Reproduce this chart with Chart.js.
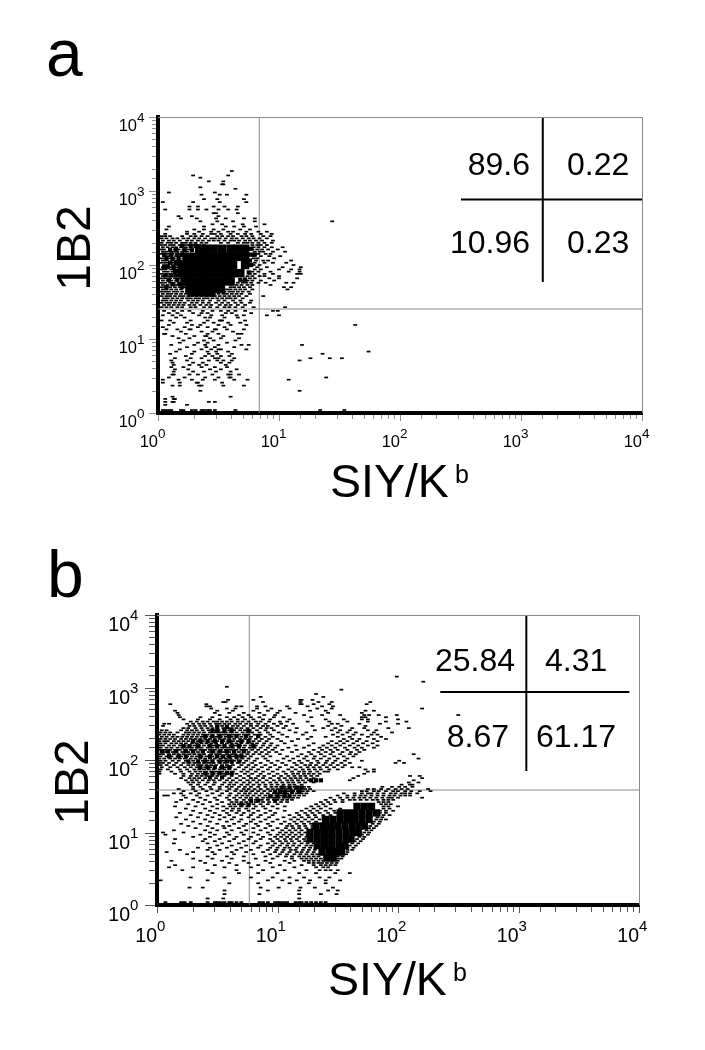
<!DOCTYPE html>
<html lang="en">
<head>
<meta charset="UTF-8">
<title>SIY/Kb vs 1B2</title>
<script src="https://cdn.jsdelivr.net/npm/chart.js"></script>
<style>
  body { margin: 0; background: #fff; font-family: "Liberation Sans", Arial, sans-serif; color: #000; }
  #page { position: relative; width: 705px; height: 1050px; overflow: hidden; }
  canvas { position: absolute; left: 0; }
  .t { position: absolute; white-space: nowrap; line-height: 1; }
  .stat { font-size: 32px; }
  .panel { font-size: 66px; }
  .ytitle { font-size: 48px; transform: translate(-50%, -50%) rotate(-90deg); }
  .xtitle { font-size: 46.5px; }
  .xtitle sup { font-size: 25px; line-height: 0; vertical-align: 14px; margin-left: 6px; }
</style>
</head>
<body>
<div id="page">
  <canvas id="chartA" width="705" height="525" style="top:0"></canvas>
  <canvas id="chartB" width="705" height="525" style="top:525px"></canvas>

  <div class="t panel" style="left:46px;top:20px">a</div>
  <div class="t ytitle" style="left:74px;top:248px">1B2</div>
  <div class="t xtitle" style="left:330px;top:458px">SIY/K<sup>b</sup></div>
  <div class="t stat" style="right:175px;top:148px">89.6</div>
  <div class="t stat" style="left:567px;top:148px">0.22</div>
  <div class="t stat" style="right:175px;top:226px">10.96</div>
  <div class="t stat" style="left:567px;top:226px">0.23</div>

  <div class="t panel" style="left:47px;top:541px">b</div>
  <div class="t ytitle" style="left:72px;top:782px">1B2</div>
  <div class="t xtitle" style="left:328px;top:956px">SIY/K<sup>b</sup></div>
  <div class="t stat" style="right:190px;top:644px">25.84</div>
  <div class="t stat" style="left:545px;top:644px">4.31</div>
  <div class="t stat" style="right:196px;top:720px">8.67</div>
  <div class="t stat" style="left:536px;top:720px">61.17</div>
</div>
<script>
// all values are in decades (log10 of the fluorescence reading)
// rows: [y decade, x decade, x decade, ...]
const decadeLabels = [0, 1, 2, 3, 4];

const aGate = [0.837, 1.405];
const aCrossV = [3.18, 1.77, 4];
const aCrossH = [2.885, 2.504, 4];

const aCore = [
  [2.22,.34,.40,.46,.53,.60,.66,.72],
  [2.11,.24,.30,.36,.42,.48,.54,.60,.66,.72],
  [2.00,.20,.26,.32,.38,.44,.50,.56,.62,.72],
  [1.89,.20,.26,.32,.38,.44,.50,.56,.62,.68],
  [1.78,.22,.26,.32,.38,.44,.50,.56,.60],
  [1.68,.26,.30,.36,.42,.46,.52],
  [1.63,.28,.34,.40,.44]
];

const aClumps = [
  [2.26,.20,.27,.31],[2.20,.10,.15,.22,.28],[2.14,.05,.11,.16,.20],[2.08,.07,.12,.17],[2.03,.10,.15],
  [1.97,.05,.08,.13],[1.92,.14,.17],[1.86,.06,.11,.15],[1.80,.09,.16],[1.74,.12,.18],[1.70,.07,.20],
  [2.22,.77],[2.14,.77,.80],[2.06,.76],[2.00,.77],[1.90,.75],[1.80,.68,.72]
];

const aDots = [
  [3.27,.61],[3.21,.29,.58],[3.18,.35],[3.13,.42,.54],[3.09,.53,.54],[3.05,.35],[3.03,.64],[2.98,.09,.47],
  [2.95,.36,.51,.57,.73],[2.89,.38,.49,.71],[2.85,.04,.29,.51,.73],[2.79,.26,.33,.46,.55,.66],
  [2.75,.06,.26,.33,.40,.50,.58,.65],[2.70,.46,.48,.66],[2.66,.17,.28,.50],[2.63,.19,.32,.48,.56,.71,.80],
  [2.59,.35,.49,.62,.80,1.44],[2.55,.45,.53,.70,.88],[2.52,.09,.38,.56,.63,.71,.81],
  [2.48,.07,.30,.38,.46,.54,.68,.76],[2.45,.24,.34,.44,.50,.58,.62,.73,.83,.90],
  [2.42,.06,.24,.30,.37,.44,.47,.52,.60,.66,.72,.77,.85,.94],
  [2.39,.03,.06,.10,.20,.27,.31,.36,.41,.49,.53,.58,.62,.69,.73,.78,.87,.93],
  [2.36,.03,.07,.12,.16,.21,.25,.30,.34,.39,.44,.47,.51,.56,.61,.65,.70,.75,.79,.84,.90],
  [2.33,.04,.09,.13,.18,.24,.28,.33,.37,.42,.46,.50,.55,.60,.63,.67,.72,.76,.81,.86,.95],
  [2.30,.03,.08,.11,.15,.20,.23,.27,.31,.36,.40,.52,.58,.66,.71,.74,.78,.83,.88,.94],
  [2.27,.03,.06,.10,.13,.18,.22,.25,.30,.34,.38,.78,.82,.85,.90],
  [2.24,.04,.08,.12,.15,.19,.23,.27,.31,.79,.83,.88,.94,1.03],
  [2.21,.03,.05,.10,.14,.17,.21,.25,.78,.82,.86,.91,.99],
  [2.18,.04,.07,.11,.13,.16,.20,.24,.80,.84,.87,.95,1.05],
  [2.15,.03,.06,.09,.12,.16,.19,.23,.80,.83,.89,.93],
  [2.12,.05,.08,.11,.15,.18,.21,.79,.85,.92,1.01],
  [2.09,.03,.06,.10,.13,.17,.21,.79,.82,.96],
  [2.06,.04,.07,.12,.15,.19,.23,.81,.87,.91,1.10],
  [2.03,.03,.06,.09,.13,.17,.21,.80,.88,.95,1.06],
  [2.00,.05,.08,.12,.15,.18,.20,.79,.84,1.12],
  [1.97,.04,.07,.10,.14,.17,.21,.82,.90,1.03,1.18],
  [1.94,.03,.06,.11,.15,.19,.80,.85,1.00,1.10,1.17],
  [1.91,.05,.08,.12,.16,.20,.78,.83,.93,1.08,1.17],
  [1.88,.03,.07,.10,.14,.18,.22,.76,.80,.88,.95,1.15,1.18],
  [1.85,.04,.08,.12,.16,.20,.24,.74,.78,.84,.88,1.00],
  [1.82,.03,.06,.10,.14,.18,.22,.72,.76,.80,.92,1.00,1.15],
  [1.79,.04,.08,.11,.15,.20,.70,.74,.78,.85,.96],
  [1.76,.03,.06,.10,.13,.17,.21,.25,.66,.70,.73,.77,.83,.89,1.06,1.12],
  [1.73,.04,.08,.12,.15,.19,.23,.61,.65,.69,.74,.78,.93],
  [1.70,.03,.06,.10,.14,.18,.22,.25,.60,.63,.67,.71,.76,1.04,1.10],
  [1.67,.04,.07,.11,.15,.19,.57,.60,.64,.68,.72,.78,1.07],
  [1.64,.03,.06,.09,.13,.16,.20,.24,.28,.51,.55,.59,.62,.66,.70,.75],
  [1.61,.04,.08,.11,.15,.19,.23,.26,.30,.42,.46,.50,.54,.57,.61,.65,.69,.76],
  [1.58,.03,.07,.10,.14,.18,.21,.25,.28,.32,.36,.40,.44,.47,.51,.55,.59,.63,.67,.73,.87],
  [1.55,.05,.08,.12,.16,.20,.24,.27,.31,.34,.38,.41,.45,.49,.53,.57,.60,.64,.70],
  [1.52,.04,.07,.11,.15,.19,.25,.29,.33,.37,.43,.50,.55,.62,.68,.77],
  [1.49,.03,.07,.10,.14,.18,.22,.28,.32,.37,.42,.48,.53,.58,.64,.69,.76],
  [1.46,.05,.09,.13,.17,.21,.26,.30,.35,.40,.44,.51,.56,.60,.66,.72],
  [1.43,.03,.07,.11,.16,.20,.27,.31,.38,.43,.49,.55,.59,.64,.70,.79,1.05],
  [1.38,.05,.13,.20,.26,.37,.45,.52,.58,.64,.72,.95,.99],
  [1.35,.09,.16,.29,.36,.41,.56,.61,.77],
  [1.32,.04,.12,.19,.34,.44,.53,.65,.71,.90,1.00],
  [1.29,.15,.22,.39,.43,.55,.66],
  [1.25,.03,.10,.27,.41,.51,.52,.53,.72],
  [1.22,.13,.24,.38,.46,.58,.68],
  [1.19,.09,.28,.35,.50,.60,.73,1.63],
  [1.16,.04,.22,.33,.41,.55],
  [1.13,.07,.16,.26,.27,.47,.48,.57,.71],
  [1.10,.19,.36,.45,.62],
  [1.07,.05,.06,.23,.41,.50,.66,.69],
  [1.04,.12,.30,.39,.40,.54],
  [1.01,.17,.26,.43,.52,.67],
  [.98,.21,.38,.46,.64],
  [.95,.18,.33,.41,.57],
  [.92,.11,.30,.39,.50,.69,.75,1.19],
  [.89,.24,.40,.47,.63],
  [.86,.18,.36,.44,.50,.52,.73],
  [.83,.15,.30,.41,.48,.58,1.74],
  [.80,.10,.28,.42,.49,.61,1.36],
  [.77,.23,.39,.45,.52,.59],
  [.74,.14,.27,.36,.47,.50,.63,1.26,1.42,1.52],
  [.71,.11,.24,.42,.49,.54,.61,1.17],
  [.68,.12,.29,.37,.52,.59],
  [.65,.13,.26,.34,.40,.56],
  [.62,.11,.21,.36,.47,.57],
  [.59,.14,.25,.43,.52,.65],
  [.56,.13,.29,.38,.48,.60],
  [.52,.12,.13,.26,.33,.45,.58,.60,.67],
  [.48,.09,.22,.39,.50,.59,.60,1.39],
  [.45,.04,.17,.28,.37,.47,.63,.74,1.08],
  [.41,.04,.18,.32,.33,.53],
  [.37,.12,.18,.34,.36,.54,.71],
  [.30,.35,1.17],[.22,.12,.60],[.19,.06,.13,.14],[.15,.06,.12,.13,.42,.47],[.11,.06,.24],
  [.04,.04,.06,.09,.11,.19,.21,.28,.31,.36,.38,.41,.43,.47,.64,1.34,1.54]
];

const bGate = [0.766, 1.586];
const bCrossV = [3.065, 1.848, 4];
const bCrossH = [2.938, 2.351, 3.92];

const bCore = [
  [1.36,1.66,1.72,1.78],
  [1.27,1.52,1.58,1.64,1.70,1.76,1.82],
  [1.18,1.40,1.46,1.52,1.58,1.64,1.70,1.76],
  [1.09,1.32,1.38,1.44,1.50,1.56,1.62,1.68,1.72],
  [1.00,1.27,1.33,1.39,1.45,1.51,1.57,1.63,1.67],
  [.91,1.27,1.33,1.39,1.45,1.51,1.57,1.61],
  [.82,1.33,1.39,1.45,1.51,1.56],
  [.73,1.37,1.43,1.49,1.53],
  [.65,1.41,1.46]
];

const bClumps = [
  [2.46,.50,.58],[2.40,.46,.50,.56,.62,.76],[2.33,.40,.46,.52,.60,.66,.74,.84],[2.26,.30,.36,.42,.48,.54,.60,.70,.76],
  [2.19,.22,.27,.34,.44,.50,.56,.62,.68,.80],[2.12,.04,.09,.16,.24,.30,.38,.46,.52,.58,.64,.72],
  [2.05,.10,.18,.24,.36,.44,.50,.55,.60,.66,.70],[1.98,.26,.34,.40,.46,.52,.58,.62,.68],
  [1.90,.36,.42,.48,.54,.60],[1.82,.40,.46,.52,.58,.62],[1.76,.44,.54],[1.72,1.32,1.36,1.28],[1.62,1.04,1.10,1.16,1.20],
  [1.56,.98,1.02,1.06,1.12,1.18],[1.50,.94,1.00,1.06,1.10],[1.44,.78,.84,.98],[1.38,.70,.76]
];

const bDots = [
  [3.15,1.99],[3.08,2.21],[3.01,.58],[2.97,1.53],[2.91,1.32],[2.87,.86,1.38],[2.83,.59,.80,1.19,1.20,1.29],
  [2.80,.55,.57,.88,1.19,1.34,1.45,1.77],[2.77,.11,.41,1.19,1.20,1.30,1.43,1.74],
  [2.74,.41,.44,.66,.70,.83,.90,1.08,1.25,1.37,1.46],[2.71,.45,.58,.65,.83,.95,1.10,1.33,1.45,2.20],
  [2.68,.15,.50,.63,.80,.92,1.02,1.27,1.40,1.73,1.80],[2.65,.17,.48,.60,.72,.85,1.00,1.15,1.42,1.70],
  [2.62,.18,.52,.68,.76,.89,.98,1.22,1.37,1.52,1.72,1.76,1.84,1.99,2.50],
  [2.59,.19,.36,.46,.58,.64,.71,.78,.85,.97,1.05,1.28,1.70,1.73,1.90],
  [2.56,.22,.34,.44,.52,.61,.67,.73,.80,.88,.94,1.10,1.40,1.55,1.70,1.75,2.00],
  [2.53,.28,.33,.38,.42,.47,.50,.54,.58,.62,.67,.71,.76,.82,.86,.93,1.02,1.08,1.25,1.43,1.58,1.75,1.90,2.07],
  [2.50,.06,.10,.25,.30,.35,.39,.44,.49,.52,.56,.60,.65,.69,.74,.78,.84,.90,.97,1.03,1.13,1.45,1.50,1.68,1.85,2.00],
  [2.47,.05,.27,.31,.36,.40,.45,.50,.54,.58,.63,.67,.72,.78,.83,.88,.92,1.00,1.07,1.29,1.42,1.53,1.73],
  [2.44,.22,.26,.32,.37,.42,.46,.50,.55,.59,.62,.66,.70,.75,.80,.86,.91,.95,1.05,1.16,1.38,1.48,1.62,1.72,1.92,2.09],
  [2.41,.04,.08,.20,.25,.29,.33,.38,.43,.47,.51,.56,.60,.64,.69,.73,.77,.83,.90,.97,1.10,1.31,1.45,1.52,1.60,1.75,1.82],
  [2.38,.03,.07,.11,.17,.24,.27,.31,.35,.39,.44,.49,.53,.57,.61,.66,.71,.75,.79,.85,.92,1.01,1.15,1.24,1.50,1.58,1.65,1.80,1.95],
  [2.35,.02,.06,.10,.14,.22,.26,.30,.34,.38,.42,.46,.51,.55,.58,.63,.68,.72,.76,.81,.86,.94,1.04,1.21,1.46,1.54,1.63,1.70,1.78,1.83],
  [2.32,.04,.08,.13,.17,.21,.25,.29,.33,.37,.41,.45,.49,.53,.57,.62,.66,.70,.74,.78,.84,.90,.96,1.08,1.28,1.40,1.50,1.60,1.75,1.86],
  [2.29,.03,.07,.11,.15,.20,.24,.28,.32,.36,.40,.44,.48,.52,.56,.60,.64,.69,.73,.77,.82,.87,.93,1.00,1.17,1.25,1.55,1.62,1.68,1.80,1.90],
  [2.26,.02,.06,.09,.14,.18,.22,.26,.30,.34,.38,.42,.46,.50,.55,.59,.63,.67,.71,.76,.80,.85,.91,1.03,1.12,1.45,1.52,1.58,1.66,1.74,1.83],
  [2.23,.03,.07,.12,.16,.20,.24,.29,.33,.37,.41,.45,.49,.54,.58,.62,.66,.70,.75,.79,.83,.89,.95,1.06,1.30,1.42,1.49,1.55,1.63,1.71,1.79],
  [2.20,.02,.05,.10,.14,.19,.23,.27,.31,.35,.39,.43,.47,.52,.56,.61,.65,.69,.73,.78,.82,.88,.94,1.00,1.15,1.26,1.38,1.45,1.52,1.60,1.67,1.75,1.83],
  [2.17,.03,.08,.12,.17,.21,.25,.29,.33,.37,.42,.46,.50,.54,.59,.63,.68,.72,.77,.81,.86,.92,.98,1.09,1.22,1.35,1.41,1.48,1.56,1.64,1.70,1.80],
  [2.14,.02,.06,.11,.15,.19,.23,.28,.32,.36,.40,.44,.48,.53,.57,.61,.66,.70,.74,.79,.84,.90,.96,1.04,1.16,1.30,1.37,1.44,1.50,1.58,1.66,1.72],
  [2.11,.04,.07,.13,.16,.21,.26,.30,.34,.38,.43,.47,.51,.55,.60,.64,.68,.72,.76,.82,.87,.93,.99,1.12,1.26,1.34,1.40,1.46,1.54,1.61,1.68],
  [2.08,.02,.05,.10,.14,.18,.22,.27,.31,.35,.39,.45,.49,.52,.58,.62,.65,.70,.75,.80,.85,.91,1.02,1.20,1.28,1.36,1.44,1.52,1.60,1.65,2.13],
  [2.05,.03,.08,.12,.17,.20,.25,.29,.33,.37,.41,.46,.50,.54,.59,.63,.67,.73,.78,.88,.94,1.08,1.17,1.24,1.31,1.39,1.47,1.55,1.63],
  [2.02,.02,.06,.11,.15,.19,.23,.28,.32,.36,.40,.44,.48,.53,.57,.61,.66,.71,.76,.83,.90,1.05,1.13,1.22,1.30,1.36,1.43,1.50,1.58,2.17],
  [1.99,.03,.07,.13,.18,.24,.30,.34,.38,.42,.46,.51,.55,.60,.64,.69,.74,.81,.92,1.00,1.10,1.18,1.25,1.33,1.41,1.48,1.56,1.70,2.01],
  [1.96,.02,.05,.10,.16,.22,.27,.31,.35,.39,.43,.47,.52,.56,.62,.67,.72,.79,.86,.95,1.04,1.14,1.20,1.28,1.34,1.40,1.46,1.53,1.60,1.98,2.05],
  [1.93,.03,.08,.14,.20,.26,.30,.34,.37,.41,.45,.49,.54,.58,.63,.70,.76,.82,.90,.98,1.07,1.16,1.23,1.27,1.32,1.38,1.44,1.50,1.56],
  [1.90,.04,.11,.17,.23,.28,.33,.36,.40,.44,.48,.53,.57,.61,.68,.74,.80,.87,.94,1.02,1.12,1.19,1.25,1.30,1.35,1.41,1.47,1.54,1.62,1.68],
  [1.87,.03,.09,.19,.25,.31,.35,.39,.43,.47,.52,.56,.60,.65,.72,.78,.84,.92,1.00,1.09,1.15,1.21,1.26,1.31,1.36,1.43,1.50,1.73,1.80],
  [1.84,.02,.12,.20,.27,.32,.36,.41,.45,.49,.54,.58,.63,.70,.75,.82,.88,.96,1.05,1.12,1.18,1.22,1.27,1.33,1.39,1.42,1.75,1.80],
  [1.81,.02,.15,.22,.29,.34,.38,.42,.47,.51,.55,.61,.66,.73,.79,.86,.93,1.00,1.07,1.13,1.17,1.22,1.26,1.30,1.35,1.72],
  [1.78,.22,.28,.33,.37,.41,.46,.50,.56,.62,.69,.76,.84,.89,.97,1.03,1.09,1.14,1.19,1.23,1.28,1.33,1.67,2.10,2.18],
  [1.75,.20,.27,.31,.35,.40,.44,.49,.54,.60,.66,.72,.78,.82,.88,.94,1.01,1.06,1.11,1.15,1.19,1.24,1.30,1.63,2.20],
  [1.72,.24,.29,.33,.38,.43,.47,.52,.58,.63,.69,.75,.80,.85,.91,.97,1.02,1.08,1.12,1.17,1.21,1.26,1.60,2.13],
  [1.69,.26,.30,.35,.42,.48,.56,.61,.66,.72,.77,.83,.88,.94,.99,1.04,1.09,1.13,1.18,1.23,1.30,2.09,2.17],
  [1.66,.28,.34,.40,.47,.54,.60,.64,.70,.75,.80,.85,.90,.95,1.00,1.05,1.10,1.14,1.20,2.03,2.10,2.12],
  [1.63,.30,.36,.44,.52,.58,.62,.68,.73,.78,.84,.90,.95,.99,1.03,1.06,1.10,1.14,1.18,1.22,1.26,1.87,1.95,2.01,2.06,2.12],
  [1.60,.18,.30,.38,.45,.52,.60,.66,.72,.76,.81,.86,.92,.96,1.00,1.03,1.07,1.11,1.15,1.19,1.23,1.27,1.75,1.80,1.86,1.92,1.98,2.03,2.08,2.25],
  [1.57,.22,.32,.41,.50,.58,.65,.70,.74,.79,.84,.89,.94,.98,1.02,1.05,1.09,1.13,1.17,1.21,1.25,1.30,1.70,1.74,1.80,1.84,1.90,1.96,2.00,2.06,2.11,2.18,2.27],
  [1.54,.14,.20,.28,.35,.46,.54,.61,.68,.73,.77,.82,.87,.92,.97,1.01,1.04,1.08,1.12,1.16,1.20,1.24,1.55,1.64,1.70,1.75,1.78,1.83,1.88,1.94,1.98,2.03,2.06,2.10,2.16],
  [1.51,.06,.09,.22,.33,.42,.52,.60,.66,.71,.75,.80,.85,.90,.95,.99,1.03,1.06,1.10,1.14,1.18,1.22,1.50,1.58,1.64,1.69,1.73,1.78,1.83,1.88,1.93,1.97,2.02,2.06,2.10],
  [1.48,.24,.36,.48,.58,.64,.69,.74,.78,.83,.88,.92,.97,1.01,1.05,1.09,1.13,1.17,1.44,1.52,1.58,1.63,1.68,1.72,1.77,1.82,1.87,1.92,1.95,2.00,2.20],
  [1.45,.20,.30,.40,.50,.60,.66,.72,.77,.82,.87,.92,.97,1.00,1.04,1.08,1.12,1.40,1.47,1.54,1.60,1.64,1.69,1.74,1.79,1.83,1.88,1.92,1.96],
  [1.42,.16,.34,.44,.54,.62,.66,.70,.74,.78,.82,.88,.93,.98,1.03,1.08,1.36,1.42,1.48,1.54,1.84,1.88,1.92],
  [1.39,.26,.38,.50,.60,.64,.68,.72,.76,.80,.86,.92,1.00,1.32,1.38,1.44,1.86,1.90,1.94],
  [1.36,.15,.32,.46,.55,.61,.65,.70,.75,.82,.88,.96,1.06,1.28,1.34,1.40,1.88,1.92,2.00],
  [1.33,.24,.40,.50,.58,.63,.68,.74,.80,.90,1.00,1.24,1.30,1.36,1.44,1.52,1.88,1.93],
  [1.30,.30,.44,.55,.62,.68,.76,.84,.94,1.06,1.20,1.27,1.33,1.40,1.47,1.54,1.60,1.85,1.90,1.96],
  [1.27,.19,.36,.48,.58,.66,.72,.80,.90,.98,1.16,1.23,1.29,1.35,1.42,1.48,1.85,1.90],
  [1.24,.28,.42,.52,.60,.70,.78,.86,.96,1.10,1.18,1.25,1.31,1.38,1.44,1.84,1.88,1.93],
  [1.21,.16,.34,.46,.56,.64,.76,.84,.93,1.05,1.14,1.20,1.26,1.32,1.38,1.83,1.87],
  [1.18,.24,.40,.52,.62,.70,.80,.90,1.00,1.11,1.17,1.23,1.29,1.35,1.82,1.86,1.90],
  [1.15,.30,.44,.58,.68,.78,.86,.96,1.06,1.14,1.20,1.26,1.32,1.80,1.85],
  [1.12,.20,.36,.50,.64,.74,.82,.92,1.03,1.10,1.16,1.22,1.28,1.34,1.79,1.84],
  [1.09,.26,.42,.55,.60,.72,.84,.94,1.08,1.12,1.18,1.23,1.29,1.77,1.82],
  [1.06,.32,.46,.56,.68,.80,.90,1.00,1.07,1.13,1.18,1.24,1.29,1.76,1.80],
  [1.03,.14,.40,.50,.62,.74,.86,.96,1.04,1.10,1.15,1.20,1.26,1.74,1.78],
  [1.00,.05,.22,.44,.58,.70,.80,.92,1.02,1.07,1.12,1.18,1.23,1.72,1.76],
  [.97,.07,.36,.48,.60,.72,.84,.94,1.00,1.05,1.10,1.15,1.20,1.25,1.70,1.75],
  [.94,.30,.44,.56,.66,.78,.88,.98,1.03,1.08,1.13,1.18,1.24,1.68,1.72],
  [.91,.15,.40,.52,.64,.76,.86,.94,1.00,1.06,1.11,1.16,1.22,1.27,1.66,1.71],
  [.88,.38,.48,.60,.72,.82,.96,1.02,1.07,1.12,1.18,1.23,1.28,1.64,1.69],
  [.85,.14,.42,.54,.68,.80,.92,.98,1.04,1.09,1.14,1.20,1.25,1.30,1.62,1.67],
  [.82,.50,.62,.74,.86,.96,1.02,1.08,1.13,1.18,1.24,1.28,1.60,1.65],
  [.79,.34,.44,.58,.70,.84,.94,1.00,1.06,1.10,1.16,1.22,1.27,1.32,1.58,1.63],
  [.76,.19,.42,.52,.66,.78,.92,.99,1.05,1.11,1.15,1.21,1.26,1.31,1.58,1.62],
  [.73,.08,.30,.46,.62,.74,.88,.98,1.04,1.10,1.16,1.20,1.25,1.30,1.36,1.54,1.58],
  [.70,.25,.48,.64,.80,.94,1.02,1.08,1.14,1.19,1.24,1.29,1.33,1.52,1.57],
  [.67,.42,.58,.72,.90,1.00,1.07,1.12,1.18,1.22,1.26,1.30,1.34,1.50,1.54],
  [.64,.30,.46,.62,.82,.96,1.12,1.20,1.24,1.28,1.32,1.36,1.50,1.53],
  [.61,.12,.36,.54,.72,.90,1.06,1.14,1.22,1.26,1.30,1.34,1.38,1.42,1.46,1.50],
  [.58,.40,.60,.76,.94,1.10,1.26,1.30,1.34,1.37,1.41,1.45,1.49],
  [.55,.15,.48,.66,.84,1.02,1.20,1.30,1.36,1.40,1.44,1.48],
  [.52,.10,.30,.56,.78,.96,1.14,1.32,1.38,1.42],
  [.48,.21,.42,.66,.88,1.06,1.24,1.35,1.40,1.44,1.50],
  [.44,.46,.68,.84,1.00,1.18,1.32,1.48,1.60],
  [.38,.28,.56,.78,.96,1.10,1.22,1.35,1.43],
  [.34,.03,.42,.92,1.04,1.16,1.27,1.40,1.52],
  [.30,.60,.84,1.10,1.26,1.40],
  [.24,.27,.38,.86,1.01,1.19,1.31,1.46],
  [.20,.56,.92,1.18,1.42,1.50],
  [.15,.56,.85,1.18,1.36,1.49],
  [.09,.42,.55,1.18],
  [.04,.07,.20,.23,.28,.42,.48,.50,.53,.56,.60,.62,.66,.70,.85,.88,.92,.98,1.00,1.02,1.05,1.08,1.15,1.18,1.20,1.24,1.28,1.32,1.36,1.40]
];

function toPoints(rows) {
  const pts = [];
  rows.forEach((row) => {
    row.slice(1).forEach((x) => pts.push({ x: 10 ** x, y: 10 ** row[0] }));
  });
  return pts;
}

function segment(x1, y1, x2, y2) {
  return [{ x: 10 ** x1, y: 10 ** y1 }, { x: 10 ** x2, y: 10 ** y2 }];
}

// frame, ticks and 10^n labels drawn from the chart's own scales
const axisExtras = {
  id: 'axisExtras',
  afterDraw(chart, args, o) {
    const { ctx, chartArea: area, scales } = chart;
    ctx.save();
    ctx.strokeStyle = '#8a8a8a';
    ctx.lineWidth = 1;
    ctx.beginPath();
    ctx.moveTo(area.left, area.top + 0.5);
    ctx.lineTo(area.right + 0.5, area.top + 0.5);
    ctx.lineTo(area.right + 0.5, area.bottom);
    ctx.stroke();

    ctx.strokeStyle = o.tickColor;
    scales.x.ticks.forEach((t) => {
      const px = Math.round(scales.x.getPixelForValue(t.value)) + 0.5;
      ctx.beginPath();
      ctx.moveTo(px, area.bottom + 2);
      ctx.lineTo(px, area.bottom + (t.major ? o.xMajor : o.xMinor));
      ctx.stroke();
    });
    scales.y.ticks.forEach((t) => {
      const py = Math.round(scales.y.getPixelForValue(t.value)) + 0.5;
      ctx.beginPath();
      ctx.moveTo(area.left - 2, py);
      ctx.lineTo(area.left - (t.major ? o.yMajor : o.yMinor), py);
      ctx.stroke();
    });

    ctx.fillStyle = '#000';
    ctx.textBaseline = 'alphabetic';
    const label = (n, right, base) => {
      ctx.font = o.baseSize + 'px "Liberation Sans"';
      ctx.textAlign = 'right';
      ctx.fillText('10', right, base);
      ctx.font = o.expSize + 'px "Liberation Sans"';
      ctx.textAlign = 'left';
      ctx.fillText(String(n), right, base - o.expRaise);
    };
    decadeLabels.forEach((n) => {
      label(n, scales.x.getPixelForValue(10 ** n), area.bottom + o.xBase);
      label(n, area.left + o.yRight, scales.y.getPixelForValue(10 ** n) + o.yBase);
    });
    ctx.restore();
  }
};

function makePanel(id, dots, clumps, core, gate, crossV, crossH, pad, extras, coreSize) {
  const dashes = { type: 'scatter', pointStyle: 'line', pointRadius: 1.9, pointBorderWidth: 1.7,
    pointBorderColor: '#000', pointBackgroundColor: '#000' };
  const line = (data, color, width) => ({ type: 'scatter', data, showLine: true, borderColor: color,
    borderWidth: width, pointRadius: 0 });
  new Chart(document.getElementById(id), {
    data: {
      datasets: [
        { ...dashes, data: toPoints(dots) },
        { type: 'scatter', data: toPoints(clumps), pointStyle: 'rect', pointRadius: 3, pointBorderWidth: 0, pointBackgroundColor: '#000' },
        { type: 'scatter', data: toPoints(core), pointStyle: 'rect', pointRadius: coreSize, pointBorderWidth: 0, pointBackgroundColor: '#000' },
        line(segment(gate[0], 0, gate[0], 4), '#8a8a8a', 1),
        line(segment(0, gate[1], 4, gate[1]), '#8a8a8a', 1),
        line(segment(crossV[0], crossV[1], crossV[0], crossV[2]), '#000', 2),
        line(segment(crossH[1], crossH[0], crossH[2], crossH[0]), '#000', 2)
      ]
    },
    options: {
      responsive: false,
      animation: false,
      layout: { padding: pad },
      plugins: { legend: { display: false }, tooltip: { enabled: false }, axisExtras: extras },
      scales: {
        x: {
          type: 'logarithmic', min: 1, max: 10000,
          ticks: { display: false }, grid: { display: false },
          border: { color: '#000', width: 4 },
          afterFit: (s) => { s.height = 0; }
        },
        y: {
          type: 'logarithmic', min: 1, max: 10000,
          ticks: { display: false }, grid: { display: false },
          border: { color: '#000', width: 4 },
          afterFit: (s) => { s.width = 0; }
        }
      }
    },
    plugins: [axisExtras]
  });
}

makePanel('chartA', aDots, aClumps, aCore, aGate, aCrossV, aCrossH,
  { left: 158, right: 63, top: 117, bottom: 112 },
  { tickColor: '#8a8a8a', xMinor: 6, xMajor: 8, yMinor: 6, yMajor: 9, baseSize: 16.5, expSize: 13.5, expRaise: 9,
    xBase: 34, yRight: -21, yBase: 14 }, 6);

makePanel('chartB', bDots, bClumps, bCore, bGate, bCrossV, bCrossH,
  { left: 157, right: 66, top: 90, bottom: 145 },
  { tickColor: '#555', xMinor: 7, xMajor: 8, yMinor: 8, yMajor: 12, baseSize: 19.5, expSize: 15, expRaise: 11,
    xBase: 37, yRight: -27, yBase: 16 }, 5.2);
</script>
</body>
</html>
